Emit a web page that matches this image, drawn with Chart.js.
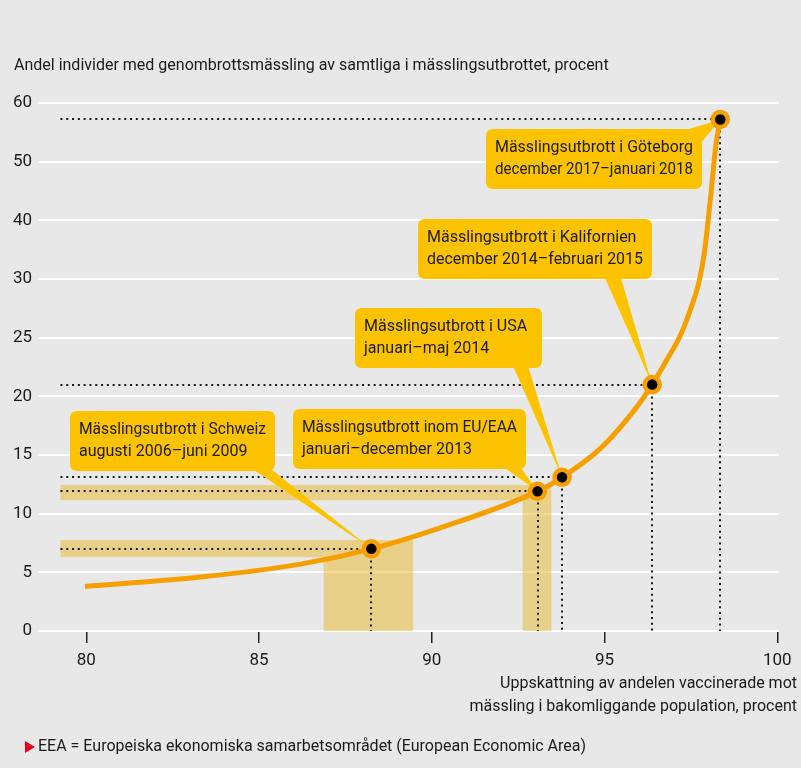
<!DOCTYPE html>
<html><head><meta charset="utf-8">
<script src="https://cdn.jsdelivr.net/npm/chart.js@4/dist/chart.umd.min.js"></script>
<style>html,body{margin:0;padding:0;background:#e8e8e8;} canvas{display:block;}</style>
</head><body>
<canvas id="c" width="801" height="768"></canvas>
<script>
const FONT = 'Roboto, "Liberation Sans", sans-serif';

// ---- data ----
const yTicks = [0, 5, 10, 15, 20, 25, 30, 40, 50, 60];
const xTicks = [80, 85, 90, 95, 100];

const curveX = [79.96, 83.3, 86.2, 88.25, 90.2, 93.06, 93.77, 94.86, 95.83, 96.38, 96.80, 97.18, 97.50, 97.73, 97.88, 98.00, 98.12, 98.22, 98.35];
const curveY = [3.8, 4.6, 5.7, 7.0, 8.75, 11.9, 13.1, 15.5, 18.7, 21.0, 23.1, 25.1, 27.5, 29.7, 34.1, 40.0, 46.9, 52.7, 57.2];

const outbreakX = [88.25, 93.06, 93.77, 96.38, 98.35];
const outbreakY = [7.0, 11.9, 13.1, 21.0, 57.2];
const outbreakTitle = [
  'Mässlingsutbrott i Schweiz',
  'Mässlingsutbrott inom EU/EAA',
  'Mässlingsutbrott i USA',
  'Mässlingsutbrott i Kalifornien',
  'Mässlingsutbrott i Göteborg'
];
const outbreakPeriod = [
  'augusti 2006–juni 2009',
  'januari–december 2013',
  'januari–maj 2014',
  'december 2014–februari 2015',
  'december 2017–januari 2018'
];

// uncertainty ranges (first two outbreaks)
const ciXLow = [86.87, 92.63];
const ciXHigh = [89.46, 93.46];
const ciYLow = [6.3, 11.15];
const ciYHigh = [7.75, 12.45];

const yAxisTitle = 'Andel individer med genombrottsmässling av samtliga i mässlingsutbrottet, procent';
const xAxisTitle = ['Uppskattning av andelen vaccinerade mot', 'mässling i bakomliggande population, procent'];
const footnote = 'EEA = Europeiska ekonomiska samarbetsområdet (European Economic Area)';

// ---- layout / style (not data) ----
const REF_START_X = 79.25; // where reference lines / bands start on the x scale
const callouts = [
  {left: 70,  top: 411, w: 205, base: [[254, 470], [272, 470]]},
  {left: 293, top: 409, w: 233, base: [[505, 468], [521, 468]]},
  {left: 355, top: 308, w: 187, base: [[513, 366], [528, 366]]},
  {left: 418, top: 219, w: 234, base: [[605, 278], [621, 278]]},
  {left: 486, top: 129, w: 216, base: [[686, 130], [701, 143]]}
];
const COL_CURVE = '#f5a000';
const COL_BOX = '#fdc300';
const COL_BAND = 'rgba(234,184,40,0.5)';
const COL_TEXT = '#1a1a1a';

// ---- axis with evenly spaced ticks (piecewise linear) ----
function yToFrac(v) {
  const n = yTicks.length - 1;
  if (v <= yTicks[0]) return 0;
  for (let i = 1; i <= n; i++) {
    if (v <= yTicks[i]) return (i - 1 + (v - yTicks[i - 1]) / (yTicks[i] - yTicks[i - 1])) / n;
  }
  return 1;
}
function fracToY(f) {
  const n = yTicks.length - 1;
  const s = Math.max(0, Math.min(n, f * n));
  const i = Math.min(n - 1, Math.floor(s));
  return yTicks[i] + (s - i) * (yTicks[i + 1] - yTicks[i]);
}
class TickSpacedScale extends Chart.LinearScale {
  getPixelForValue(v) { return this.getPixelForDecimal(yToFrac(v)); }
  getValueForPixel(p) { return fracToY(this.getDecimalForPixel(p)); }
}
TickSpacedScale.id = 'tickSpaced';
TickSpacedScale.defaults = Chart.LinearScale.defaults;
Chart.register(TickSpacedScale);

function roundRect(ctx, x, y, w, h, r) {
  ctx.beginPath();
  ctx.moveTo(x + r, y);
  ctx.lineTo(x + w - r, y);
  ctx.quadraticCurveTo(x + w, y, x + w, y + r);
  ctx.lineTo(x + w, y + h - r);
  ctx.quadraticCurveTo(x + w, y + h, x + w - r, y + h);
  ctx.lineTo(x + r, y + h);
  ctx.quadraticCurveTo(x, y + h, x, y + h - r);
  ctx.lineTo(x, y + r);
  ctx.quadraticCurveTo(x, y, x + r, y);
  ctx.closePath();
}

const overlay = {
  id: 'overlay',
  beforeDatasetsDraw(chart) {
    const ctx = chart.ctx, xs = chart.scales.x, ys = chart.scales.y;
    ctx.save();
    // bands
    ctx.fillStyle = COL_BAND;
    for (let i = 0; i < ciXLow.length; i++) {
      const xl = xs.getPixelForValue(REF_START_X);
      const x1 = xs.getPixelForValue(ciXLow[i]);
      const x2 = xs.getPixelForValue(ciXHigh[i]);
      const yTop = ys.getPixelForValue(ciYHigh[i]);
      const yBot = ys.getPixelForValue(ciYLow[i]);
      const y0 = ys.getPixelForValue(0);
      ctx.fillRect(xl, yTop, x1 - xl, yBot - yTop);
      ctx.fillRect(x1, yTop, x2 - x1, y0 - yTop);
    }
    // dotted reference lines
    ctx.strokeStyle = COL_TEXT;
    ctx.lineWidth = 2;
    ctx.setLineDash([2, 3.8]);
    for (let i = 0; i < outbreakX.length; i++) {
      const px = Math.round(xs.getPixelForValue(outbreakX[i]));
      const py = Math.round(ys.getPixelForValue(outbreakY[i]));
      ctx.beginPath();
      ctx.moveTo(xs.getPixelForValue(REF_START_X), py);
      ctx.lineTo(px, py);
      ctx.stroke();
      ctx.beginPath();
      ctx.moveTo(px, py);
      ctx.lineTo(px, ys.getPixelForValue(0));
      ctx.stroke();
    }
    ctx.restore();
  },
  beforeDatasetDraw(chart, args) {
    if (args.index !== 1) return;
    const ctx = chart.ctx, xs = chart.scales.x, ys = chart.scales.y;
    ctx.save();
    ctx.font = '16px ' + FONT;
    for (let i = 0; i < outbreakX.length; i++) {
      const L = callouts[i];
      const px = xs.getPixelForValue(outbreakX[i]);
      const py = ys.getPixelForValue(outbreakY[i]);
      const w = L.w;
      const h = 60;
      ctx.fillStyle = COL_BOX;
      ctx.beginPath();
      ctx.moveTo(L.base[0][0], L.base[0][1]);
      ctx.lineTo(L.base[1][0], L.base[1][1]);
      ctx.lineTo(px, py);
      ctx.closePath();
      ctx.fill();
      roundRect(ctx, L.left, L.top, w, h, 7);
      ctx.fill();
      ctx.fillStyle = COL_TEXT;
      ctx.textAlign = 'left';
      ctx.textBaseline = 'middle';
      ctx.fillText(outbreakTitle[i], L.left + 9, L.top + 19, w - 18);
      ctx.fillText(outbreakPeriod[i], L.left + 9, L.top + 41, w - 18);
    }
    ctx.restore();
  },
  afterDraw(chart) {
    const ctx = chart.ctx;
    ctx.save();
    ctx.fillStyle = COL_TEXT;
    ctx.font = '16px ' + FONT;
    ctx.textBaseline = 'middle';
    ctx.textAlign = 'left';
    ctx.fillText(yAxisTitle, 14, 66);
    ctx.textAlign = 'right';
    ctx.fillText(xAxisTitle[0], 797, 684);
    ctx.fillText(xAxisTitle[1], 797, 707);
    ctx.textAlign = 'left';
    ctx.fillText(footnote, 38, 747);
    ctx.fillStyle = '#e2001a';
    ctx.beginPath();
    ctx.moveTo(25, 741);
    ctx.lineTo(35, 747);
    ctx.lineTo(25, 753);
    ctx.closePath();
    ctx.fill();
    ctx.restore();
  }
};

new Chart(document.getElementById('c'), {
  type: 'line',
  data: {
    datasets: [
      {
        label: 'Utbrott',
        data: outbreakX.map((x, i) => ({x, y: outbreakY[i]})),
        showLine: false,
        pointRadius: 7.5,
        pointBackgroundColor: '#000',
        pointBorderColor: COL_CURVE,
        pointBorderWidth: 4.5,
        order: 1
      },
      {
        label: 'Kurva',
        data: curveX.map((x, i) => ({x, y: curveY[i]})),
        borderColor: COL_CURVE,
        borderWidth: 5,
        pointRadius: 0,
        cubicInterpolationMode: 'monotone',
        fill: false,
        order: 2
      }
    ]
  },
  options: {
    responsive: false,
    animation: false,
    events: [],
    layout: {padding: {top: 103, left: 0, right: 22, bottom: 97}},
    plugins: {legend: {display: false}, tooltip: {enabled: false}, title: {display: false}},
    scales: {
      x: {
        type: 'linear',
        min: 78.6,
        max: 100.05,
        afterBuildTicks: s => { s.ticks = xTicks.map(v => ({value: v})); },
        afterFit: s => { s.height = 40; },
        grid: {display: true, drawOnChartArea: false, drawTicks: true, tickLength: 12, color: '#222', lineWidth: 1.5},
        border: {display: false},
        ticks: {color: COL_TEXT, font: {family: FONT, size: 17}, padding: 8, callback: v => String(v), maxRotation: 0}
      },
      y: {
        type: 'tickSpaced',
        min: 0,
        max: 60,
        afterBuildTicks: s => { s.ticks = yTicks.map(v => ({value: v})); },
        afterFit: s => { s.width = 38; },
        grid: {color: '#ffffff', lineWidth: 2, drawTicks: false},
        border: {display: false},
        ticks: {color: COL_TEXT, font: {family: FONT, size: 17}, padding: 6, callback: v => String(v)}
      }
    }
  },
  plugins: [overlay]
});
</script>
</body></html>
